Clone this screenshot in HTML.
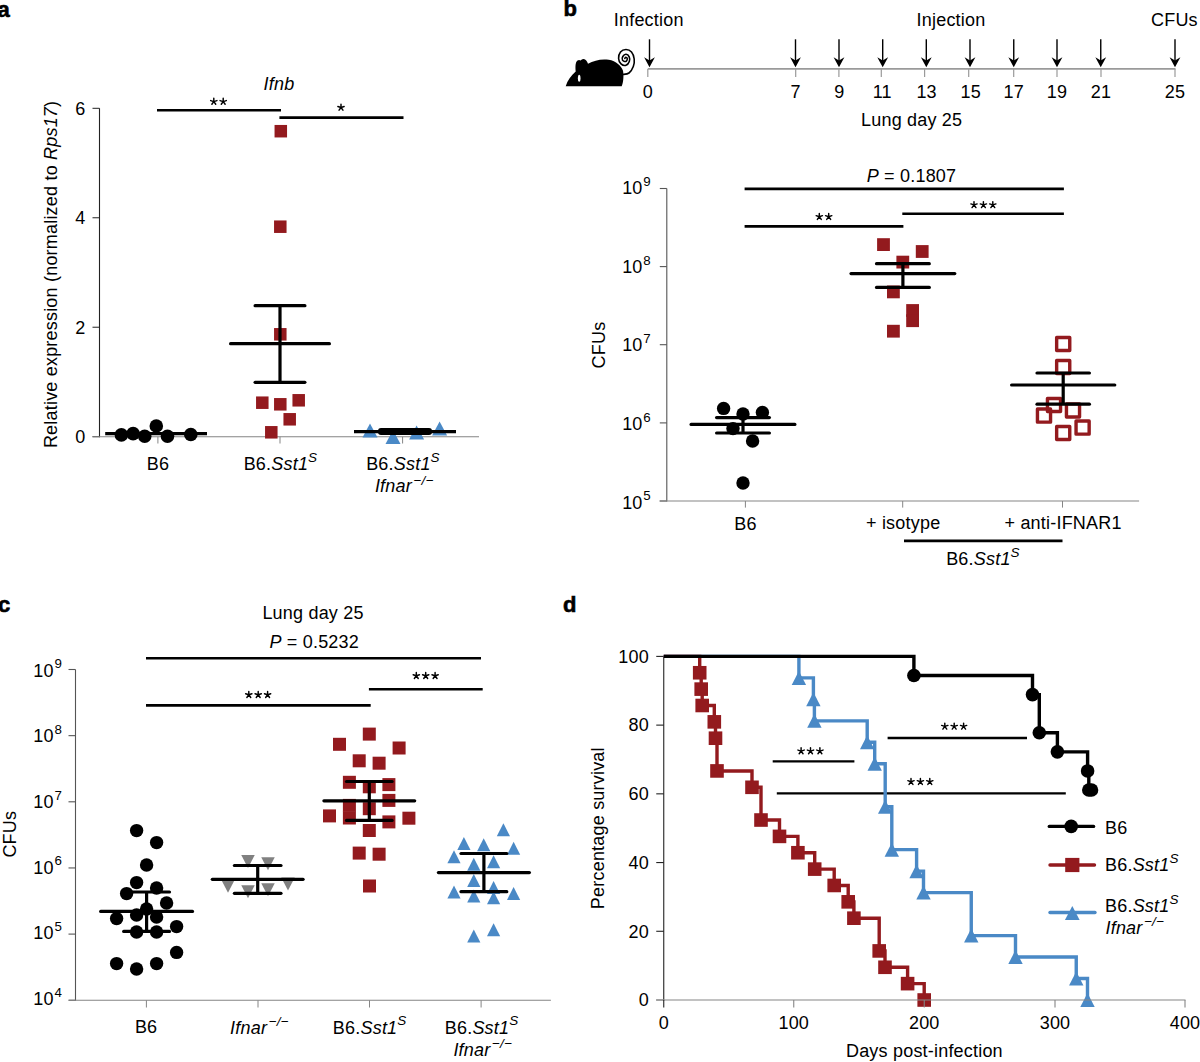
<!DOCTYPE html>
<html><head><meta charset="utf-8"><style>
html,body{margin:0;padding:0;background:#fff;}
svg{display:block;}
text{font-family:"Liberation Sans",sans-serif;fill:#000;letter-spacing:0.2px;}
</style></head><body>
<svg width="1200" height="1062" viewBox="0 0 1200 1062">
<rect width="1200" height="1062" fill="#fff"/>
<text x="-2.50" y="17.00" font-size="22" text-anchor="start" font-weight="bold" stroke="#000" stroke-width="0.6">a</text>
<line x1="99.50" y1="108.30" x2="99.50" y2="437.20" stroke="#222" stroke-width="1.1" stroke-linecap="butt"/>
<line x1="92.50" y1="436.70" x2="99.50" y2="436.70" stroke="#222" stroke-width="1" stroke-linecap="butt"/>
<text x="85.50" y="443.00" font-size="18" text-anchor="end" >0</text>
<line x1="92.50" y1="327.23" x2="99.50" y2="327.23" stroke="#222" stroke-width="1" stroke-linecap="butt"/>
<text x="85.50" y="333.53" font-size="18" text-anchor="end" >2</text>
<line x1="92.50" y1="217.77" x2="99.50" y2="217.77" stroke="#222" stroke-width="1" stroke-linecap="butt"/>
<text x="85.50" y="224.07" font-size="18" text-anchor="end" >4</text>
<line x1="92.50" y1="108.30" x2="99.50" y2="108.30" stroke="#222" stroke-width="1" stroke-linecap="butt"/>
<text x="85.50" y="114.60" font-size="18" text-anchor="end" >6</text>
<line x1="92.50" y1="436.70" x2="479.00" y2="436.70" stroke="#858585" stroke-width="1.1" stroke-linecap="butt"/>
<line x1="157.90" y1="436.70" x2="157.90" y2="443.50" stroke="#858585" stroke-width="1" stroke-linecap="butt"/>
<line x1="280.00" y1="436.70" x2="280.00" y2="443.50" stroke="#858585" stroke-width="1" stroke-linecap="butt"/>
<line x1="402.60" y1="436.70" x2="402.60" y2="443.50" stroke="#858585" stroke-width="1" stroke-linecap="butt"/>
<text x="0.00" y="0.00" font-size="18" text-anchor="middle" transform="translate(57,274.4) rotate(-90)">Relative expression (normalized to <tspan font-style="italic">Rps17</tspan>)</text>
<text x="279.00" y="89.50" font-size="18" text-anchor="middle" font-style="italic">Ifnb</text>
<line x1="157.00" y1="110.20" x2="281.00" y2="110.20" stroke="#000" stroke-width="2.6" stroke-linecap="butt"/>
<line x1="279.40" y1="117.60" x2="403.50" y2="117.60" stroke="#000" stroke-width="2.6" stroke-linecap="butt"/>
<path d="M213.80 101.60L213.80 98.30M213.80 101.60L216.94 100.58M213.80 101.60L215.74 104.27M213.80 101.60L211.86 104.27M213.80 101.60L210.66 100.58" stroke="#000" stroke-width="1.45" fill="none" stroke-linejoin="miter" stroke-linecap="round"/>
<path d="M223.20 101.60L223.20 98.30M223.20 101.60L226.34 100.58M223.20 101.60L225.14 104.27M223.20 101.60L221.26 104.27M223.20 101.60L220.06 100.58" stroke="#000" stroke-width="1.45" fill="none" stroke-linejoin="miter" stroke-linecap="round"/>
<path d="M341.00 107.50L341.00 104.20M341.00 107.50L344.14 106.48M341.00 107.50L342.94 110.17M341.00 107.50L339.06 110.17M341.00 107.50L337.86 106.48" stroke="#000" stroke-width="1.45" fill="none" stroke-linejoin="miter" stroke-linecap="round"/>
<line x1="105.20" y1="433.60" x2="207.00" y2="433.60" stroke="#000" stroke-width="3.2" stroke-linecap="butt"/>
<circle cx="121.40" cy="434.90" r="6.8" fill="#000"/>
<circle cx="133.10" cy="433.60" r="6.8" fill="#000"/>
<circle cx="144.70" cy="436.30" r="6.8" fill="#000"/>
<circle cx="156.30" cy="426.00" r="6.8" fill="#000"/>
<circle cx="167.50" cy="436.30" r="6.8" fill="#000"/>
<circle cx="190.80" cy="434.50" r="6.8" fill="#000"/>
<rect x="256.05" y="396.45" width="12.5" height="12.5" fill="#931a1e"/>
<rect x="274.05" y="398.05" width="12.5" height="12.5" fill="#931a1e"/>
<rect x="292.45" y="394.05" width="12.5" height="12.5" fill="#931a1e"/>
<rect x="283.45" y="413.05" width="12.5" height="12.5" fill="#931a1e"/>
<rect x="265.05" y="426.05" width="12.5" height="12.5" fill="#931a1e"/>
<rect x="274.05" y="328.05" width="12.5" height="12.5" fill="#931a1e"/>
<rect x="274.05" y="220.45" width="12.5" height="12.5" fill="#931a1e"/>
<rect x="274.55" y="124.95" width="12.5" height="12.5" fill="#931a1e"/>
<line x1="230.60" y1="343.70" x2="329.40" y2="343.70" stroke="#000" stroke-width="3.2" stroke-linecap="round"/>
<line x1="255.10" y1="305.70" x2="304.90" y2="305.70" stroke="#000" stroke-width="3.2" stroke-linecap="round"/>
<line x1="255.10" y1="382.30" x2="304.90" y2="382.30" stroke="#000" stroke-width="3.2" stroke-linecap="round"/>
<line x1="280.00" y1="305.70" x2="280.00" y2="382.30" stroke="#000" stroke-width="3.2" stroke-linecap="butt"/>
<path d="M362.50 437.60L377.50 437.60L370.00 423.60Z" fill="#4a89c6"/>
<path d="M385.50 444.00L400.50 444.00L393.00 430.00Z" fill="#4a89c6"/>
<path d="M409.10 439.40L424.10 439.40L416.60 425.40Z" fill="#4a89c6"/>
<path d="M432.10 435.50L447.10 435.50L439.60 421.50Z" fill="#4a89c6"/>
<line x1="354.00" y1="431.60" x2="456.00" y2="431.60" stroke="#000" stroke-width="3.2" stroke-linecap="butt"/>
<rect x="378" y="428" width="54" height="7" rx="3" fill="#000"/>
<text x="158.00" y="470.00" font-size="18" text-anchor="middle" >B6</text>
<text x="280.50" y="470.00" font-size="18" text-anchor="middle" >B6.<tspan font-style="italic">Sst1</tspan><tspan font-style="italic" font-size="13.5" dy="-8.2">S</tspan></text>
<text x="403.00" y="470.40" font-size="18" text-anchor="middle" >B6.<tspan font-style="italic">Sst1</tspan><tspan font-style="italic" font-size="13.5" dy="-8.2">S</tspan></text>
<text x="404.20" y="492.30" font-size="18" text-anchor="middle" ><tspan font-style="italic">Ifnar</tspan><tspan font-style="italic" font-size="13.5" dx="1.4" dy="-7.6">&#8722;/&#8722;</tspan></text>
<text x="563.50" y="15.80" font-size="22" text-anchor="start" font-weight="bold" stroke="#000" stroke-width="0.6">b</text>
<path d="M565.7 86.3 L621.7 86.3 C623.6 82 623.8 75 623 70.7 C621.5 66 616 61 608.7 59.8 C601 58.8 594 60.5 588 63.7 C587.2 61 585.5 58.8 583.6 58.9 C581.8 59 580.8 60 580.5 60.6 C579.8 59.8 578.5 59.8 577.5 60.5 C575.5 62 575.2 66 575.7 71.5 C571 75.5 567.5 80.5 565.7 86.3 Z" stroke="#000" stroke-width="0" fill="#000" stroke-linejoin="miter" stroke-linecap="butt"/>
<ellipse cx="579.2" cy="78.3" rx="1.3" ry="3.5" fill="#fff"/>
<path d="M622.5 74.5 C623.58 74.25 627.20 74.33 629 73 C630.80 71.67 632.43 68.83 633.3 66.5 C634.17 64.17 634.50 61.42 634.2 59 C633.90 56.58 632.87 53.58 631.5 52 C630.13 50.42 627.83 49.50 626 49.5 C624.17 49.50 621.73 50.50 620.5 52 C619.27 53.50 618.52 56.53 618.6 58.5 C618.68 60.47 619.77 62.67 621 63.8 C622.23 64.93 624.62 65.68 626 65.3 C627.38 64.92 628.77 62.92 629.3 61.5 C629.83 60.08 629.75 58.00 629.2 56.8 C628.65 55.60 627.07 54.35 626 54.3 C624.93 54.25 623.38 55.52 622.8 56.5 C622.22 57.48 622.00 59.37 622.5 60.2 C623.00 61.03 625.00 61.73 625.8 61.5 C626.60 61.27 627.30 59.50 627.3 58.8 C627.30 58.10 626.22 57.35 625.8 57.3 C625.38 57.25 624.97 58.30 624.8 58.5" stroke="#000" stroke-width="1.6" fill="none" stroke-linejoin="miter" stroke-linecap="round"/>
<text x="613.80" y="26.20" font-size="18" text-anchor="start" >Infection</text>
<text x="916.60" y="25.60" font-size="18" text-anchor="start" >Injection</text>
<text x="1151.00" y="26.00" font-size="18" text-anchor="start" >CFUs</text>
<line x1="647.80" y1="68.90" x2="1175.50" y2="68.90" stroke="#9a9a9a" stroke-width="1.6" stroke-linecap="butt"/>
<line x1="647.80" y1="68.90" x2="647.80" y2="77.00" stroke="#9a9a9a" stroke-width="1.2" stroke-linecap="butt"/>
<text x="647.80" y="98.00" font-size="18" text-anchor="middle" >0</text>
<line x1="795.70" y1="68.90" x2="795.70" y2="77.00" stroke="#9a9a9a" stroke-width="1.2" stroke-linecap="butt"/>
<text x="795.70" y="98.00" font-size="18" text-anchor="middle" >7</text>
<line x1="838.90" y1="68.90" x2="838.90" y2="77.00" stroke="#9a9a9a" stroke-width="1.2" stroke-linecap="butt"/>
<text x="839.30" y="98.00" font-size="18" text-anchor="middle" >9</text>
<line x1="881.30" y1="68.90" x2="881.30" y2="77.00" stroke="#9a9a9a" stroke-width="1.2" stroke-linecap="butt"/>
<text x="882.30" y="98.00" font-size="18" text-anchor="middle" >11</text>
<line x1="924.60" y1="68.90" x2="924.60" y2="77.00" stroke="#9a9a9a" stroke-width="1.2" stroke-linecap="butt"/>
<text x="926.60" y="98.00" font-size="18" text-anchor="middle" >13</text>
<line x1="968.70" y1="68.90" x2="968.70" y2="77.00" stroke="#9a9a9a" stroke-width="1.2" stroke-linecap="butt"/>
<text x="970.70" y="98.00" font-size="18" text-anchor="middle" >15</text>
<line x1="1013.70" y1="68.90" x2="1013.70" y2="77.00" stroke="#9a9a9a" stroke-width="1.2" stroke-linecap="butt"/>
<text x="1013.70" y="98.00" font-size="18" text-anchor="middle" >17</text>
<line x1="1057.00" y1="68.90" x2="1057.00" y2="77.00" stroke="#9a9a9a" stroke-width="1.2" stroke-linecap="butt"/>
<text x="1057.00" y="98.00" font-size="18" text-anchor="middle" >19</text>
<line x1="1101.00" y1="68.90" x2="1101.00" y2="77.00" stroke="#9a9a9a" stroke-width="1.2" stroke-linecap="butt"/>
<text x="1101.00" y="98.00" font-size="18" text-anchor="middle" >21</text>
<line x1="1175.00" y1="68.90" x2="1175.00" y2="77.00" stroke="#9a9a9a" stroke-width="1.2" stroke-linecap="butt"/>
<text x="1175.00" y="98.00" font-size="18" text-anchor="middle" >25</text>
<line x1="649.50" y1="39.30" x2="649.50" y2="62.00" stroke="#000" stroke-width="1.4" stroke-linecap="butt"/>
<path d="M649.5 67.2 L644.1 57.2 L649.5 60.6 L654.9 57.2 Z" fill="#000"/>
<line x1="795.50" y1="39.30" x2="795.50" y2="62.00" stroke="#000" stroke-width="1.4" stroke-linecap="butt"/>
<path d="M795.5 67.2 L790.1 57.2 L795.5 60.6 L800.9 57.2 Z" fill="#000"/>
<line x1="839.00" y1="39.30" x2="839.00" y2="62.00" stroke="#000" stroke-width="1.4" stroke-linecap="butt"/>
<path d="M839 67.2 L833.6 57.2 L839 60.6 L844.4 57.2 Z" fill="#000"/>
<line x1="882.70" y1="39.30" x2="882.70" y2="62.00" stroke="#000" stroke-width="1.4" stroke-linecap="butt"/>
<path d="M882.7 67.2 L877.3000000000001 57.2 L882.7 60.6 L888.1 57.2 Z" fill="#000"/>
<line x1="926.30" y1="39.30" x2="926.30" y2="62.00" stroke="#000" stroke-width="1.4" stroke-linecap="butt"/>
<path d="M926.3 67.2 L920.9 57.2 L926.3 60.6 L931.6999999999999 57.2 Z" fill="#000"/>
<line x1="970.00" y1="39.30" x2="970.00" y2="62.00" stroke="#000" stroke-width="1.4" stroke-linecap="butt"/>
<path d="M970 67.2 L964.6 57.2 L970 60.6 L975.4 57.2 Z" fill="#000"/>
<line x1="1013.75" y1="39.30" x2="1013.75" y2="62.00" stroke="#000" stroke-width="1.4" stroke-linecap="butt"/>
<path d="M1013.75 67.2 L1008.35 57.2 L1013.75 60.6 L1019.15 57.2 Z" fill="#000"/>
<line x1="1057.00" y1="39.30" x2="1057.00" y2="62.00" stroke="#000" stroke-width="1.4" stroke-linecap="butt"/>
<path d="M1057 67.2 L1051.6 57.2 L1057 60.6 L1062.4 57.2 Z" fill="#000"/>
<line x1="1100.75" y1="39.30" x2="1100.75" y2="62.00" stroke="#000" stroke-width="1.4" stroke-linecap="butt"/>
<path d="M1100.75 67.2 L1095.35 57.2 L1100.75 60.6 L1106.15 57.2 Z" fill="#000"/>
<line x1="1175.00" y1="39.30" x2="1175.00" y2="62.00" stroke="#000" stroke-width="1.4" stroke-linecap="butt"/>
<path d="M1175 67.2 L1169.6 57.2 L1175 60.6 L1180.4 57.2 Z" fill="#000"/>
<text x="861.00" y="126.00" font-size="18" text-anchor="start" >Lung day 25</text>
<line x1="666.80" y1="188.50" x2="666.80" y2="501.50" stroke="#555" stroke-width="1.1" stroke-linecap="butt"/>
<line x1="659.80" y1="188.50" x2="666.80" y2="188.50" stroke="#555" stroke-width="1.1" stroke-linecap="butt"/>
<text x="622.15" y="194.20" font-size="18" text-anchor="start" >10</text>
<text x="643.35" y="186.00" font-size="13.3" text-anchor="start" >9</text>
<line x1="659.80" y1="266.60" x2="666.80" y2="266.60" stroke="#555" stroke-width="1.1" stroke-linecap="butt"/>
<text x="622.15" y="272.84" font-size="18" text-anchor="start" >10</text>
<text x="643.35" y="264.56" font-size="13.3" text-anchor="start" >8</text>
<line x1="659.80" y1="344.70" x2="666.80" y2="344.70" stroke="#555" stroke-width="1.1" stroke-linecap="butt"/>
<text x="622.15" y="351.48" font-size="18" text-anchor="start" >10</text>
<text x="643.35" y="343.12" font-size="13.3" text-anchor="start" >7</text>
<line x1="659.80" y1="422.90" x2="666.80" y2="422.90" stroke="#555" stroke-width="1.1" stroke-linecap="butt"/>
<text x="622.15" y="430.12" font-size="18" text-anchor="start" >10</text>
<text x="643.35" y="421.68" font-size="13.3" text-anchor="start" >6</text>
<line x1="659.80" y1="501.00" x2="666.80" y2="501.00" stroke="#555" stroke-width="1.1" stroke-linecap="butt"/>
<text x="622.15" y="508.76" font-size="18" text-anchor="start" >10</text>
<text x="643.35" y="500.24" font-size="13.3" text-anchor="start" >5</text>
<text x="0.00" y="0.00" font-size="18" text-anchor="middle" transform="translate(605.3,345) rotate(-90)">CFUs</text>
<line x1="659.50" y1="501.00" x2="1139.10" y2="501.00" stroke="#858585" stroke-width="1.1" stroke-linecap="butt"/>
<line x1="745.40" y1="501.00" x2="745.40" y2="507.60" stroke="#858585" stroke-width="1" stroke-linecap="butt"/>
<line x1="902.70" y1="501.00" x2="902.70" y2="507.60" stroke="#858585" stroke-width="1" stroke-linecap="butt"/>
<line x1="1062.50" y1="501.00" x2="1062.50" y2="507.60" stroke="#858585" stroke-width="1" stroke-linecap="butt"/>
<text x="745.50" y="530.00" font-size="18" text-anchor="middle" >B6</text>
<text x="866.00" y="529.20" font-size="18" text-anchor="start" >+ isotype</text>
<text x="1004.50" y="529.00" font-size="18" text-anchor="start" >+ anti-IFNAR1</text>
<line x1="904.00" y1="540.90" x2="1062.50" y2="540.90" stroke="#000" stroke-width="2.6" stroke-linecap="butt"/>
<text x="983.00" y="565.00" font-size="18" text-anchor="middle" >B6.<tspan font-style="italic">Sst1</tspan><tspan font-style="italic" font-size="13.5" dy="-8.2">S</tspan></text>
<line x1="744.60" y1="188.90" x2="1063.90" y2="188.90" stroke="#000" stroke-width="2.6" stroke-linecap="butt"/>
<text x="911.50" y="181.80" font-size="18" text-anchor="middle" ><tspan font-style="italic">P</tspan> = 0.1807</text>
<line x1="744.60" y1="226.40" x2="903.40" y2="226.40" stroke="#000" stroke-width="2.6" stroke-linecap="butt"/>
<path d="M819.30 216.70L819.30 213.40M819.30 216.70L822.44 215.68M819.30 216.70L821.24 219.37M819.30 216.70L817.36 219.37M819.30 216.70L816.16 215.68" stroke="#000" stroke-width="1.45" fill="none" stroke-linejoin="miter" stroke-linecap="round"/>
<path d="M828.70 216.70L828.70 213.40M828.70 216.70L831.84 215.68M828.70 216.70L830.64 219.37M828.70 216.70L826.76 219.37M828.70 216.70L825.56 215.68" stroke="#000" stroke-width="1.45" fill="none" stroke-linejoin="miter" stroke-linecap="round"/>
<line x1="902.30" y1="213.70" x2="1063.90" y2="213.70" stroke="#000" stroke-width="2.6" stroke-linecap="butt"/>
<path d="M974.00 204.90L974.00 201.60M974.00 204.90L977.14 203.88M974.00 204.90L975.94 207.57M974.00 204.90L972.06 207.57M974.00 204.90L970.86 203.88" stroke="#000" stroke-width="1.45" fill="none" stroke-linejoin="miter" stroke-linecap="round"/>
<path d="M983.40 204.90L983.40 201.60M983.40 204.90L986.54 203.88M983.40 204.90L985.34 207.57M983.40 204.90L981.46 207.57M983.40 204.90L980.26 203.88" stroke="#000" stroke-width="1.45" fill="none" stroke-linejoin="miter" stroke-linecap="round"/>
<path d="M992.80 204.90L992.80 201.60M992.80 204.90L995.94 203.88M992.80 204.90L994.74 207.57M992.80 204.90L990.86 207.57M992.80 204.90L989.66 203.88" stroke="#000" stroke-width="1.45" fill="none" stroke-linejoin="miter" stroke-linecap="round"/>
<circle cx="723.60" cy="408.40" r="6.7" fill="#000"/>
<circle cx="743.00" cy="414.00" r="6.7" fill="#000"/>
<circle cx="762.40" cy="412.40" r="6.7" fill="#000"/>
<circle cx="733.00" cy="428.60" r="6.7" fill="#000"/>
<circle cx="752.60" cy="441.00" r="6.7" fill="#000"/>
<circle cx="743.00" cy="483.00" r="6.7" fill="#000"/>
<line x1="691.10" y1="424.40" x2="794.90" y2="424.40" stroke="#000" stroke-width="3.2" stroke-linecap="round"/>
<line x1="716.60" y1="417.60" x2="769.40" y2="417.60" stroke="#000" stroke-width="3.2" stroke-linecap="round"/>
<line x1="716.60" y1="433.00" x2="769.40" y2="433.00" stroke="#000" stroke-width="3.2" stroke-linecap="round"/>
<line x1="743.00" y1="417.60" x2="743.00" y2="433.00" stroke="#000" stroke-width="3.2" stroke-linecap="butt"/>
<rect x="877.10" y="238.20" width="12.8" height="12.8" fill="#931a1e"/>
<rect x="915.80" y="245.10" width="12.8" height="12.8" fill="#931a1e"/>
<rect x="896.40" y="255.70" width="12.8" height="12.8" fill="#931a1e"/>
<rect x="887.00" y="285.50" width="12.8" height="12.8" fill="#931a1e"/>
<rect x="906.20" y="304.10" width="12.8" height="12.8" fill="#931a1e"/>
<rect x="906.20" y="314.30" width="12.8" height="12.8" fill="#931a1e"/>
<rect x="887.00" y="324.80" width="12.8" height="12.8" fill="#931a1e"/>
<line x1="851.00" y1="273.60" x2="954.80" y2="273.60" stroke="#000" stroke-width="3.2" stroke-linecap="round"/>
<line x1="876.50" y1="263.70" x2="929.30" y2="263.70" stroke="#000" stroke-width="3.2" stroke-linecap="round"/>
<line x1="876.50" y1="287.40" x2="929.30" y2="287.40" stroke="#000" stroke-width="3.2" stroke-linecap="round"/>
<line x1="902.90" y1="263.70" x2="902.90" y2="287.40" stroke="#000" stroke-width="3.2" stroke-linecap="butt"/>
<rect x="1056.65" y="337.45" width="13.1" height="13.1" fill="none" stroke="#931a1e" stroke-width="3.4" stroke-linejoin="round"/>
<rect x="1056.65" y="360.45" width="13.1" height="13.1" fill="none" stroke="#931a1e" stroke-width="3.4" stroke-linejoin="round"/>
<rect x="1047.45" y="398.45" width="13.1" height="13.1" fill="none" stroke="#931a1e" stroke-width="3.4" stroke-linejoin="round"/>
<rect x="1037.45" y="409.05" width="13.1" height="13.1" fill="none" stroke="#931a1e" stroke-width="3.4" stroke-linejoin="round"/>
<rect x="1066.45" y="403.85" width="13.1" height="13.1" fill="none" stroke="#931a1e" stroke-width="3.4" stroke-linejoin="round"/>
<rect x="1076.05" y="421.05" width="13.1" height="13.1" fill="none" stroke="#931a1e" stroke-width="3.4" stroke-linejoin="round"/>
<rect x="1056.65" y="426.45" width="13.1" height="13.1" fill="none" stroke="#931a1e" stroke-width="3.4" stroke-linejoin="round"/>
<line x1="1011.60" y1="385.00" x2="1114.80" y2="385.00" stroke="#000" stroke-width="3.2" stroke-linecap="round"/>
<line x1="1037.00" y1="373.00" x2="1089.40" y2="373.00" stroke="#000" stroke-width="3.2" stroke-linecap="round"/>
<line x1="1037.00" y1="404.20" x2="1089.40" y2="404.20" stroke="#000" stroke-width="3.2" stroke-linecap="round"/>
<line x1="1063.20" y1="373.00" x2="1063.20" y2="404.20" stroke="#000" stroke-width="3.2" stroke-linecap="butt"/>
<text x="-2.00" y="611.60" font-size="22" text-anchor="start" font-weight="bold" stroke="#000" stroke-width="0.6">c</text>
<line x1="75.50" y1="669.50" x2="75.50" y2="1000.80" stroke="#555" stroke-width="1.1" stroke-linecap="butt"/>
<line x1="68.50" y1="669.50" x2="75.50" y2="669.50" stroke="#555" stroke-width="1.1" stroke-linecap="butt"/>
<text x="33.20" y="676.60" font-size="18" text-anchor="start" >10</text>
<text x="54.40" y="668.10" font-size="13.3" text-anchor="start" >9</text>
<line x1="68.50" y1="735.65" x2="75.50" y2="735.65" stroke="#555" stroke-width="1.1" stroke-linecap="butt"/>
<text x="33.20" y="742.28" font-size="18" text-anchor="start" >10</text>
<text x="54.40" y="733.83" font-size="13.3" text-anchor="start" >8</text>
<line x1="68.50" y1="801.80" x2="75.50" y2="801.80" stroke="#555" stroke-width="1.1" stroke-linecap="butt"/>
<text x="33.20" y="807.96" font-size="18" text-anchor="start" >10</text>
<text x="54.40" y="799.56" font-size="13.3" text-anchor="start" >7</text>
<line x1="68.50" y1="867.95" x2="75.50" y2="867.95" stroke="#555" stroke-width="1.1" stroke-linecap="butt"/>
<text x="33.20" y="873.64" font-size="18" text-anchor="start" >10</text>
<text x="54.40" y="865.29" font-size="13.3" text-anchor="start" >6</text>
<line x1="68.50" y1="934.10" x2="75.50" y2="934.10" stroke="#555" stroke-width="1.1" stroke-linecap="butt"/>
<text x="33.20" y="939.32" font-size="18" text-anchor="start" >10</text>
<text x="54.40" y="931.02" font-size="13.3" text-anchor="start" >5</text>
<line x1="68.50" y1="1000.25" x2="75.50" y2="1000.25" stroke="#555" stroke-width="1.1" stroke-linecap="butt"/>
<text x="33.20" y="1005.00" font-size="18" text-anchor="start" >10</text>
<text x="54.40" y="996.75" font-size="13.3" text-anchor="start" >4</text>
<text x="0.00" y="0.00" font-size="18" text-anchor="middle" transform="translate(16.1,834.2) rotate(-90)">CFUs</text>
<line x1="68.75" y1="1000.30" x2="550.90" y2="1000.30" stroke="#858585" stroke-width="1.1" stroke-linecap="butt"/>
<line x1="146.40" y1="1000.30" x2="146.40" y2="1007.50" stroke="#858585" stroke-width="1" stroke-linecap="butt"/>
<line x1="258.00" y1="1000.30" x2="258.00" y2="1007.50" stroke="#858585" stroke-width="1" stroke-linecap="butt"/>
<line x1="369.50" y1="1000.30" x2="369.50" y2="1007.50" stroke="#858585" stroke-width="1" stroke-linecap="butt"/>
<line x1="481.10" y1="1000.30" x2="481.10" y2="1007.50" stroke="#858585" stroke-width="1" stroke-linecap="butt"/>
<text x="146.10" y="1033.30" font-size="18" text-anchor="middle" >B6</text>
<text x="259.40" y="1033.80" font-size="18" text-anchor="middle" ><tspan font-style="italic">Ifnar</tspan><tspan font-style="italic" font-size="13.5" dx="1.4" dy="-7.6">&#8722;/&#8722;</tspan></text>
<text x="369.70" y="1033.60" font-size="18" text-anchor="middle" >B6.<tspan font-style="italic">Sst1</tspan><tspan font-style="italic" font-size="13.5" dy="-8.2">S</tspan></text>
<text x="481.60" y="1033.60" font-size="18" text-anchor="middle" >B6.<tspan font-style="italic">Sst1</tspan><tspan font-style="italic" font-size="13.5" dy="-8.2">S</tspan></text>
<text x="482.70" y="1055.60" font-size="18" text-anchor="middle" ><tspan font-style="italic">Ifnar</tspan><tspan font-style="italic" font-size="13.5" dx="1.4" dy="-7.6">&#8722;/&#8722;</tspan></text>
<text x="262.40" y="619.30" font-size="18" text-anchor="start" >Lung day 25</text>
<text x="314.20" y="648.10" font-size="18" text-anchor="middle" ><tspan font-style="italic">P</tspan> = 0.5232</text>
<line x1="146.00" y1="658.20" x2="481.00" y2="658.20" stroke="#000" stroke-width="2.6" stroke-linecap="butt"/>
<line x1="146.00" y1="705.40" x2="370.70" y2="705.40" stroke="#000" stroke-width="2.6" stroke-linecap="butt"/>
<path d="M248.80 694.80L248.80 691.50M248.80 694.80L251.94 693.78M248.80 694.80L250.74 697.47M248.80 694.80L246.86 697.47M248.80 694.80L245.66 693.78" stroke="#000" stroke-width="1.45" fill="none" stroke-linejoin="miter" stroke-linecap="round"/>
<path d="M258.20 694.80L258.20 691.50M258.20 694.80L261.34 693.78M258.20 694.80L260.14 697.47M258.20 694.80L256.26 697.47M258.20 694.80L255.06 693.78" stroke="#000" stroke-width="1.45" fill="none" stroke-linejoin="miter" stroke-linecap="round"/>
<path d="M267.60 694.80L267.60 691.50M267.60 694.80L270.74 693.78M267.60 694.80L269.54 697.47M267.60 694.80L265.66 697.47M267.60 694.80L264.46 693.78" stroke="#000" stroke-width="1.45" fill="none" stroke-linejoin="miter" stroke-linecap="round"/>
<line x1="368.90" y1="689.20" x2="482.70" y2="689.20" stroke="#000" stroke-width="2.6" stroke-linecap="butt"/>
<path d="M416.30 675.80L416.30 672.50M416.30 675.80L419.44 674.78M416.30 675.80L418.24 678.47M416.30 675.80L414.36 678.47M416.30 675.80L413.16 674.78" stroke="#000" stroke-width="1.45" fill="none" stroke-linejoin="miter" stroke-linecap="round"/>
<path d="M425.70 675.80L425.70 672.50M425.70 675.80L428.84 674.78M425.70 675.80L427.64 678.47M425.70 675.80L423.76 678.47M425.70 675.80L422.56 674.78" stroke="#000" stroke-width="1.45" fill="none" stroke-linejoin="miter" stroke-linecap="round"/>
<path d="M435.10 675.80L435.10 672.50M435.10 675.80L438.24 674.78M435.10 675.80L437.04 678.47M435.10 675.80L433.16 678.47M435.10 675.80L431.96 674.78" stroke="#000" stroke-width="1.45" fill="none" stroke-linejoin="miter" stroke-linecap="round"/>
<circle cx="136.60" cy="830.60" r="6.7" fill="#000"/>
<circle cx="156.60" cy="842.60" r="6.7" fill="#000"/>
<circle cx="146.60" cy="865.00" r="6.7" fill="#000"/>
<circle cx="136.60" cy="882.60" r="6.7" fill="#000"/>
<circle cx="156.60" cy="888.00" r="6.7" fill="#000"/>
<circle cx="126.60" cy="893.60" r="6.7" fill="#000"/>
<circle cx="166.60" cy="903.00" r="6.7" fill="#000"/>
<circle cx="146.60" cy="909.00" r="6.7" fill="#000"/>
<circle cx="136.60" cy="915.00" r="6.7" fill="#000"/>
<circle cx="156.60" cy="917.00" r="6.7" fill="#000"/>
<circle cx="116.60" cy="918.60" r="6.7" fill="#000"/>
<circle cx="176.60" cy="926.60" r="6.7" fill="#000"/>
<circle cx="136.60" cy="932.00" r="6.7" fill="#000"/>
<circle cx="156.60" cy="932.00" r="6.7" fill="#000"/>
<circle cx="176.60" cy="952.40" r="6.7" fill="#000"/>
<circle cx="116.60" cy="963.60" r="6.7" fill="#000"/>
<circle cx="136.60" cy="969.00" r="6.7" fill="#000"/>
<circle cx="156.60" cy="963.60" r="6.7" fill="#000"/>
<line x1="100.70" y1="911.40" x2="192.50" y2="911.40" stroke="#000" stroke-width="3.2" stroke-linecap="round"/>
<line x1="123.70" y1="892.00" x2="169.50" y2="892.00" stroke="#000" stroke-width="3.2" stroke-linecap="round"/>
<line x1="123.70" y1="931.40" x2="169.50" y2="931.40" stroke="#000" stroke-width="3.2" stroke-linecap="round"/>
<line x1="146.60" y1="892.00" x2="146.60" y2="931.40" stroke="#000" stroke-width="3.2" stroke-linecap="butt"/>
<path d="M241.25 855.00L254.75 855.00L248.00 868.00Z" fill="#808080"/>
<path d="M261.25 857.30L274.75 857.30L268.00 870.30Z" fill="#808080"/>
<path d="M221.25 879.70L234.75 879.70L228.00 892.70Z" fill="#808080"/>
<path d="M241.25 885.20L254.75 885.20L248.00 898.20Z" fill="#808080"/>
<path d="M261.25 883.20L274.75 883.20L268.00 896.20Z" fill="#808080"/>
<path d="M281.25 877.50L294.75 877.50L288.00 890.50Z" fill="#808080"/>
<line x1="212.30" y1="879.30" x2="303.10" y2="879.30" stroke="#000" stroke-width="3.2" stroke-linecap="round"/>
<line x1="234.40" y1="865.50" x2="281.00" y2="865.50" stroke="#000" stroke-width="3.2" stroke-linecap="round"/>
<line x1="234.40" y1="893.30" x2="281.00" y2="893.30" stroke="#000" stroke-width="3.2" stroke-linecap="round"/>
<line x1="257.70" y1="865.50" x2="257.70" y2="893.30" stroke="#000" stroke-width="3.2" stroke-linecap="butt"/>
<rect x="362.80" y="727.60" width="13" height="13" fill="#931a1e"/>
<rect x="333.00" y="737.80" width="13" height="13" fill="#931a1e"/>
<rect x="392.60" y="741.50" width="13" height="13" fill="#931a1e"/>
<rect x="352.70" y="754.30" width="13" height="13" fill="#931a1e"/>
<rect x="372.60" y="756.70" width="13" height="13" fill="#931a1e"/>
<rect x="342.90" y="775.80" width="13" height="13" fill="#931a1e"/>
<rect x="362.80" y="780.30" width="13" height="13" fill="#931a1e"/>
<rect x="382.40" y="778.10" width="13" height="13" fill="#931a1e"/>
<rect x="382.40" y="793.90" width="13" height="13" fill="#931a1e"/>
<rect x="342.90" y="798.90" width="13" height="13" fill="#931a1e"/>
<rect x="342.90" y="811.50" width="13" height="13" fill="#931a1e"/>
<rect x="362.80" y="802.20" width="13" height="13" fill="#931a1e"/>
<rect x="323.00" y="809.40" width="13" height="13" fill="#931a1e"/>
<rect x="402.40" y="811.70" width="13" height="13" fill="#931a1e"/>
<rect x="382.40" y="815.40" width="13" height="13" fill="#931a1e"/>
<rect x="362.80" y="824.00" width="13" height="13" fill="#931a1e"/>
<rect x="352.70" y="846.60" width="13" height="13" fill="#931a1e"/>
<rect x="372.60" y="847.70" width="13" height="13" fill="#931a1e"/>
<rect x="363.00" y="879.50" width="13" height="13" fill="#931a1e"/>
<line x1="323.90" y1="800.80" x2="414.70" y2="800.80" stroke="#000" stroke-width="3.2" stroke-linecap="round"/>
<line x1="346.50" y1="781.50" x2="392.10" y2="781.50" stroke="#000" stroke-width="3.2" stroke-linecap="round"/>
<line x1="346.50" y1="820.40" x2="392.10" y2="820.40" stroke="#000" stroke-width="3.2" stroke-linecap="round"/>
<line x1="369.30" y1="781.50" x2="369.30" y2="820.40" stroke="#000" stroke-width="3.2" stroke-linecap="butt"/>
<path d="M496.80 836.30L510.00 836.30L503.40 823.30Z" fill="#4a89c6"/>
<path d="M457.30 849.90L470.50 849.90L463.90 836.90Z" fill="#4a89c6"/>
<path d="M477.10 851.20L490.30 851.20L483.70 838.20Z" fill="#4a89c6"/>
<path d="M507.00 854.85L520.20 854.85L513.60 841.85Z" fill="#4a89c6"/>
<path d="M447.40 863.30L460.60 863.30L454.00 850.30Z" fill="#4a89c6"/>
<path d="M467.20 870.80L480.40 870.80L473.80 857.80Z" fill="#4a89c6"/>
<path d="M487.00 868.25L500.20 868.25L493.60 855.25Z" fill="#4a89c6"/>
<path d="M467.20 887.00L480.40 887.00L473.80 874.00Z" fill="#4a89c6"/>
<path d="M447.40 898.40L460.60 898.40L454.00 885.40Z" fill="#4a89c6"/>
<path d="M487.00 893.95L500.20 893.95L493.60 880.95Z" fill="#4a89c6"/>
<path d="M467.20 902.55L480.40 902.55L473.80 889.55Z" fill="#4a89c6"/>
<path d="M487.00 904.30L500.20 904.30L493.60 891.30Z" fill="#4a89c6"/>
<path d="M507.00 899.90L520.20 899.90L513.60 886.90Z" fill="#4a89c6"/>
<path d="M467.20 942.55L480.40 942.55L473.80 929.55Z" fill="#4a89c6"/>
<path d="M487.00 936.30L500.20 936.30L493.60 923.30Z" fill="#4a89c6"/>
<line x1="438.40" y1="872.60" x2="529.40" y2="872.60" stroke="#000" stroke-width="3.2" stroke-linecap="round"/>
<line x1="461.00" y1="853.50" x2="506.80" y2="853.50" stroke="#000" stroke-width="3.2" stroke-linecap="round"/>
<line x1="461.00" y1="891.70" x2="506.80" y2="891.70" stroke="#000" stroke-width="3.2" stroke-linecap="round"/>
<line x1="483.90" y1="853.50" x2="483.90" y2="891.70" stroke="#000" stroke-width="3.2" stroke-linecap="butt"/>
<text x="563.00" y="611.75" font-size="22" text-anchor="start" font-weight="bold" stroke="#000" stroke-width="0.6">d</text>
<line x1="663.75" y1="656.40" x2="663.75" y2="1000.50" stroke="#222" stroke-width="1.1" stroke-linecap="butt"/>
<line x1="656.25" y1="1000.00" x2="663.75" y2="1000.00" stroke="#858585" stroke-width="1.1" stroke-linecap="butt"/>
<text x="649.00" y="1006.30" font-size="18" text-anchor="end" >0</text>
<line x1="656.25" y1="931.28" x2="663.75" y2="931.28" stroke="#222" stroke-width="1.1" stroke-linecap="butt"/>
<text x="649.00" y="937.58" font-size="18" text-anchor="end" >20</text>
<line x1="656.25" y1="862.56" x2="663.75" y2="862.56" stroke="#222" stroke-width="1.1" stroke-linecap="butt"/>
<text x="649.00" y="868.86" font-size="18" text-anchor="end" >40</text>
<line x1="656.25" y1="793.84" x2="663.75" y2="793.84" stroke="#222" stroke-width="1.1" stroke-linecap="butt"/>
<text x="649.00" y="800.14" font-size="18" text-anchor="end" >60</text>
<line x1="656.25" y1="725.12" x2="663.75" y2="725.12" stroke="#222" stroke-width="1.1" stroke-linecap="butt"/>
<text x="649.00" y="731.42" font-size="18" text-anchor="end" >80</text>
<line x1="656.25" y1="656.40" x2="663.75" y2="656.40" stroke="#222" stroke-width="1.1" stroke-linecap="butt"/>
<text x="649.00" y="662.70" font-size="18" text-anchor="end" >100</text>
<text x="0.00" y="0.00" font-size="18" text-anchor="middle" transform="translate(603.8,828.2) rotate(-90)">Percentage survival</text>
<text x="663.75" y="1029.00" font-size="18" text-anchor="middle" >0</text>
<text x="793.75" y="1029.00" font-size="18" text-anchor="middle" >100</text>
<text x="924.25" y="1029.00" font-size="18" text-anchor="middle" >200</text>
<text x="1055.00" y="1029.00" font-size="18" text-anchor="middle" >300</text>
<text x="1185.00" y="1029.00" font-size="18" text-anchor="middle" >400</text>
<text x="924.40" y="1057.20" font-size="18" text-anchor="middle" >Days post-infection</text>
<line x1="772.70" y1="761.30" x2="854.40" y2="761.30" stroke="#000" stroke-width="2.3" stroke-linecap="butt"/>
<path d="M801.10 751.10L801.10 747.80M801.10 751.10L804.24 750.08M801.10 751.10L803.04 753.77M801.10 751.10L799.16 753.77M801.10 751.10L797.96 750.08" stroke="#000" stroke-width="1.45" fill="none" stroke-linejoin="miter" stroke-linecap="round"/>
<path d="M810.50 751.10L810.50 747.80M810.50 751.10L813.64 750.08M810.50 751.10L812.44 753.77M810.50 751.10L808.56 753.77M810.50 751.10L807.36 750.08" stroke="#000" stroke-width="1.45" fill="none" stroke-linejoin="miter" stroke-linecap="round"/>
<path d="M819.90 751.10L819.90 747.80M819.90 751.10L823.04 750.08M819.90 751.10L821.84 753.77M819.90 751.10L817.96 753.77M819.90 751.10L816.76 750.08" stroke="#000" stroke-width="1.45" fill="none" stroke-linejoin="miter" stroke-linecap="round"/>
<line x1="887.60" y1="738.00" x2="1027.00" y2="738.00" stroke="#000" stroke-width="2.3" stroke-linecap="butt"/>
<path d="M944.80 726.40L944.80 723.10M944.80 726.40L947.94 725.38M944.80 726.40L946.74 729.07M944.80 726.40L942.86 729.07M944.80 726.40L941.66 725.38" stroke="#000" stroke-width="1.45" fill="none" stroke-linejoin="miter" stroke-linecap="round"/>
<path d="M954.20 726.40L954.20 723.10M954.20 726.40L957.34 725.38M954.20 726.40L956.14 729.07M954.20 726.40L952.26 729.07M954.20 726.40L951.06 725.38" stroke="#000" stroke-width="1.45" fill="none" stroke-linejoin="miter" stroke-linecap="round"/>
<path d="M963.60 726.40L963.60 723.10M963.60 726.40L966.74 725.38M963.60 726.40L965.54 729.07M963.60 726.40L961.66 729.07M963.60 726.40L960.46 725.38" stroke="#000" stroke-width="1.45" fill="none" stroke-linejoin="miter" stroke-linecap="round"/>
<line x1="776.80" y1="793.30" x2="1065.80" y2="793.30" stroke="#000" stroke-width="2.3" stroke-linecap="butt"/>
<path d="M911.00 781.70L911.00 778.40M911.00 781.70L914.14 780.68M911.00 781.70L912.94 784.37M911.00 781.70L909.06 784.37M911.00 781.70L907.86 780.68" stroke="#000" stroke-width="1.45" fill="none" stroke-linejoin="miter" stroke-linecap="round"/>
<path d="M920.40 781.70L920.40 778.40M920.40 781.70L923.54 780.68M920.40 781.70L922.34 784.37M920.40 781.70L918.46 784.37M920.40 781.70L917.26 780.68" stroke="#000" stroke-width="1.45" fill="none" stroke-linejoin="miter" stroke-linecap="round"/>
<path d="M929.80 781.70L929.80 778.40M929.80 781.70L932.94 780.68M929.80 781.70L931.74 784.37M929.80 781.70L927.86 784.37M929.80 781.70L926.66 780.68" stroke="#000" stroke-width="1.45" fill="none" stroke-linejoin="miter" stroke-linecap="round"/>
<path d="M663.75 656.4 H798.90 V677.88 H813.40 V699.35 H814.40 V720.83 H867.20 V742.30 H874.70 V763.77 H885.20 V806.73 H891.80 V849.67 H916.60 V871.15 H923.50 V892.62 H971.25 V935.58 H1015.50 V957.05 H1076.25 V978.52 H1087.50 V1000.00" stroke="#4a89c6" stroke-width="3.4" fill="none" stroke-linejoin="miter" stroke-linecap="butt"/>
<path d="M791.70 684.88L806.10 684.88L798.90 670.88Z" fill="#4a89c6"/>
<path d="M806.20 706.35L820.60 706.35L813.40 692.35Z" fill="#4a89c6"/>
<path d="M807.20 727.83L821.60 727.83L814.40 713.83Z" fill="#4a89c6"/>
<path d="M860.00 749.30L874.40 749.30L867.20 735.30Z" fill="#4a89c6"/>
<path d="M867.50 770.77L881.90 770.77L874.70 756.77Z" fill="#4a89c6"/>
<path d="M878.00 813.73L892.40 813.73L885.20 799.73Z" fill="#4a89c6"/>
<path d="M884.60 856.67L899.00 856.67L891.80 842.67Z" fill="#4a89c6"/>
<path d="M909.40 878.15L923.80 878.15L916.60 864.15Z" fill="#4a89c6"/>
<path d="M916.30 899.62L930.70 899.62L923.50 885.62Z" fill="#4a89c6"/>
<path d="M964.05 942.58L978.45 942.58L971.25 928.58Z" fill="#4a89c6"/>
<path d="M1008.30 964.05L1022.70 964.05L1015.50 950.05Z" fill="#4a89c6"/>
<path d="M1069.05 985.52L1083.45 985.52L1076.25 971.52Z" fill="#4a89c6"/>
<path d="M1080.30 1007.00L1094.70 1007.00L1087.50 993.00Z" fill="#4a89c6"/>
<path d="M663.75 656.4 H699.70 V672.76 H701.20 V689.12 H702.20 V705.49 H714.30 V721.85 H715.50 V738.21 H717.00 V770.93 H752.00 V787.30 H761.00 V820.02 H779.50 V836.38 H797.90 V852.74 H814.70 V869.11 H834.20 V885.47 H848.20 V901.83 H853.90 V918.19 H879.20 V950.92 H885.00 V967.28 H907.60 V983.64 H924.20 V1000.00" stroke="#931a1e" stroke-width="3.4" fill="none" stroke-linejoin="miter" stroke-linecap="butt"/>
<rect x="692.90" y="665.96" width="13.6" height="13.6" fill="#931a1e"/>
<rect x="694.40" y="682.32" width="13.6" height="13.6" fill="#931a1e"/>
<rect x="695.40" y="698.69" width="13.6" height="13.6" fill="#931a1e"/>
<rect x="707.50" y="715.05" width="13.6" height="13.6" fill="#931a1e"/>
<rect x="708.70" y="731.41" width="13.6" height="13.6" fill="#931a1e"/>
<rect x="710.20" y="764.13" width="13.6" height="13.6" fill="#931a1e"/>
<rect x="745.20" y="780.50" width="13.6" height="13.6" fill="#931a1e"/>
<rect x="754.20" y="813.22" width="13.6" height="13.6" fill="#931a1e"/>
<rect x="772.70" y="829.58" width="13.6" height="13.6" fill="#931a1e"/>
<rect x="791.10" y="845.94" width="13.6" height="13.6" fill="#931a1e"/>
<rect x="807.90" y="862.31" width="13.6" height="13.6" fill="#931a1e"/>
<rect x="827.40" y="878.67" width="13.6" height="13.6" fill="#931a1e"/>
<rect x="841.40" y="895.03" width="13.6" height="13.6" fill="#931a1e"/>
<rect x="847.10" y="911.39" width="13.6" height="13.6" fill="#931a1e"/>
<rect x="872.40" y="944.12" width="13.6" height="13.6" fill="#931a1e"/>
<rect x="878.20" y="960.48" width="13.6" height="13.6" fill="#931a1e"/>
<rect x="900.80" y="976.84" width="13.6" height="13.6" fill="#931a1e"/>
<rect x="917.40" y="993.20" width="13.6" height="13.6" fill="#931a1e"/>
<path d="M663.75 656.4 H913.90 V675.49 H1032.50 V694.58 H1039.30 V732.76 H1057.40 V751.85 H1087.60 V770.93 H1088.80 V790.02 H1091.50 V790.02" stroke="#000" stroke-width="3.4" fill="none" stroke-linejoin="miter" stroke-linecap="butt"/>
<circle cx="913.90" cy="675.49" r="6.8" fill="#000"/>
<circle cx="1032.50" cy="694.58" r="6.8" fill="#000"/>
<circle cx="1039.30" cy="732.76" r="6.8" fill="#000"/>
<circle cx="1057.40" cy="751.85" r="6.8" fill="#000"/>
<circle cx="1087.60" cy="770.93" r="6.8" fill="#000"/>
<circle cx="1088.80" cy="790.02" r="6.8" fill="#000"/>
<circle cx="1091.50" cy="790.02" r="6.8" fill="#000"/>
<line x1="656.00" y1="1000.00" x2="1185.50" y2="1000.00" stroke="#858585" stroke-width="1.1" stroke-linecap="butt"/>
<line x1="663.75" y1="1000.00" x2="663.75" y2="1007.50" stroke="#222" stroke-width="1.1" stroke-linecap="butt"/>
<line x1="793.75" y1="1000.00" x2="793.75" y2="1007.50" stroke="#858585" stroke-width="1.1" stroke-linecap="butt"/>
<line x1="924.25" y1="1000.00" x2="924.25" y2="1007.50" stroke="#858585" stroke-width="1.1" stroke-linecap="butt"/>
<line x1="1055.00" y1="1000.00" x2="1055.00" y2="1007.50" stroke="#858585" stroke-width="1.1" stroke-linecap="butt"/>
<line x1="1185.00" y1="1000.00" x2="1185.00" y2="1007.50" stroke="#858585" stroke-width="1.1" stroke-linecap="butt"/>
<line x1="1049.30" y1="826.40" x2="1093.60" y2="826.40" stroke="#000" stroke-width="3.4" stroke-linecap="round"/>
<circle cx="1071.20" cy="826.40" r="6.8" fill="#000"/>
<text x="1105.00" y="833.60" font-size="18" text-anchor="start" >B6</text>
<line x1="1050.00" y1="865.00" x2="1094.50" y2="865.00" stroke="#931a1e" stroke-width="3.4" stroke-linecap="round"/>
<rect x="1065.20" y="857.90" width="14.2" height="14.2" fill="#931a1e"/>
<text x="1105.00" y="871.30" font-size="18" text-anchor="start" >B6.<tspan font-style="italic">Sst1</tspan><tspan font-style="italic" font-size="13.5" dy="-8.2">S</tspan></text>
<line x1="1050.00" y1="912.50" x2="1095.00" y2="912.50" stroke="#4a89c6" stroke-width="3.4" stroke-linecap="round"/>
<path d="M1064.95 920.10L1079.65 920.10L1072.30 905.90Z" fill="#4a89c6"/>
<text x="1105.00" y="912.30" font-size="18" text-anchor="start" >B6.<tspan font-style="italic">Sst1</tspan><tspan font-style="italic" font-size="13.5" dy="-8.2">S</tspan></text>
<text x="1105.50" y="933.50" font-size="18" text-anchor="start" ><tspan font-style="italic">Ifnar</tspan><tspan font-style="italic" font-size="13.5" dx="1.4" dy="-7.6">&#8722;/&#8722;</tspan></text>
</svg></body></html>
